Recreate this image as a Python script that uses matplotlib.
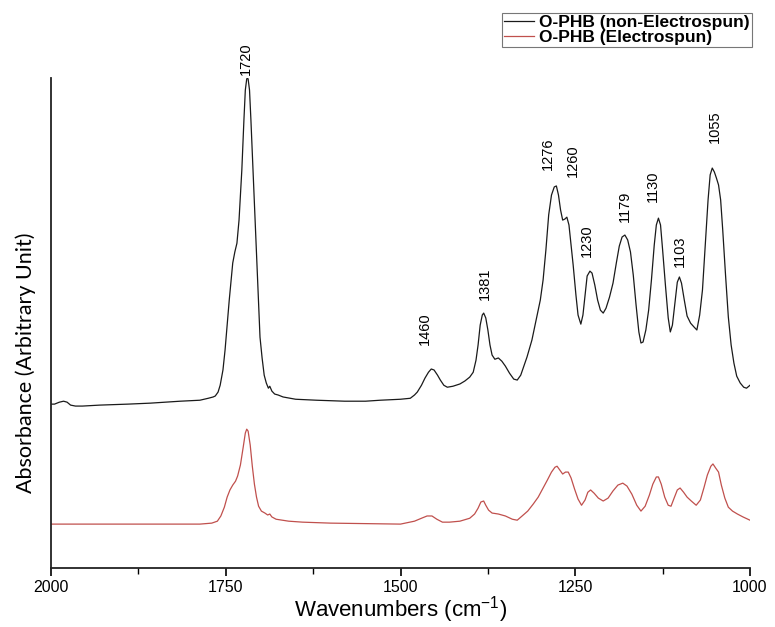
import matplotlib
matplotlib.use("Agg")
import matplotlib.pyplot as plt
from matplotlib.ticker import MultipleLocator
from matplotlib.lines import Line2D

plt.rcParams["mathtext.default"] = "regular"

# FTIR spectra of O-PHB, absorbance in arbitrary units
wn_nonspun = [2000, 1995, 1988, 1982, 1977, 1972, 1965, 1955, 1930, 1890, 1858, 1815,
              1787, 1775, 1768, 1765, 1761, 1758, 1754, 1751, 1748, 1745, 1742, 1740,
              1737, 1734, 1731, 1727, 1724, 1722, 1720, 1719, 1718, 1716, 1714, 1711,
              1708, 1705, 1703, 1701, 1698, 1695, 1692, 1689, 1687, 1684, 1680, 1675,
              1668, 1650, 1620, 1580, 1550, 1529, 1500, 1486, 1480, 1476, 1470, 1465,
              1460, 1456, 1452, 1447, 1443, 1438, 1433, 1425, 1415, 1408, 1401, 1396,
              1392, 1389, 1386, 1383, 1381, 1378, 1375, 1372, 1369, 1365, 1360, 1355,
              1350, 1344, 1338, 1333, 1328, 1323, 1319, 1312, 1305, 1300, 1296, 1292,
              1288, 1284, 1280, 1277, 1274, 1271, 1268, 1265, 1262, 1259, 1256, 1253,
              1249, 1246, 1242, 1239, 1236, 1233, 1229, 1226, 1222, 1218, 1214, 1210,
              1206, 1201, 1196, 1191, 1187, 1183, 1179, 1175, 1171, 1167, 1163, 1159,
              1156, 1153, 1149, 1145, 1141, 1137, 1134, 1131, 1128, 1125, 1121, 1117,
              1114, 1111, 1107, 1104, 1101, 1098, 1094, 1090, 1085, 1080, 1076, 1072,
              1068, 1064, 1060, 1057, 1054, 1051, 1048, 1045, 1042, 1039, 1035, 1031,
              1027, 1023, 1019, 1014, 1009, 1005, 1000]
abs_nonspun = [0.000, 0.000, 0.006, 0.009, 0.006, -0.003, -0.006, -0.006, -0.003, 0.000,
               0.003, 0.009, 0.012, 0.018, 0.022, 0.025, 0.037, 0.058, 0.105, 0.166,
               0.243, 0.320, 0.388, 0.434, 0.468, 0.495, 0.566, 0.720, 0.874, 0.966,
               1.000, 1.003, 1.000, 0.966, 0.874, 0.720, 0.566, 0.412, 0.305, 0.206,
               0.142, 0.089, 0.065, 0.049, 0.055, 0.040, 0.031, 0.028, 0.022, 0.015,
               0.012, 0.009, 0.009, 0.012, 0.015, 0.018, 0.028, 0.037, 0.058, 0.080,
               0.098, 0.108, 0.105, 0.089, 0.074, 0.058, 0.052, 0.055, 0.062, 0.071,
               0.083, 0.098, 0.135, 0.182, 0.243, 0.274, 0.280, 0.265, 0.228, 0.182,
               0.151, 0.138, 0.142, 0.132, 0.117, 0.095, 0.077, 0.074, 0.089, 0.120,
               0.145, 0.197, 0.268, 0.320, 0.382, 0.474, 0.582, 0.643, 0.668, 0.671,
               0.643, 0.597, 0.566, 0.569, 0.575, 0.551, 0.489, 0.428, 0.335, 0.274,
               0.246, 0.274, 0.335, 0.394, 0.409, 0.403, 0.366, 0.320, 0.289, 0.280,
               0.295, 0.329, 0.372, 0.437, 0.486, 0.514, 0.520, 0.505, 0.468, 0.397,
               0.305, 0.222, 0.188, 0.191, 0.228, 0.289, 0.382, 0.489, 0.551, 0.572,
               0.551, 0.474, 0.366, 0.265, 0.222, 0.243, 0.320, 0.375, 0.391, 0.372,
               0.320, 0.271, 0.249, 0.237, 0.228, 0.274, 0.351, 0.489, 0.628, 0.705,
               0.726, 0.714, 0.695, 0.674, 0.628, 0.535, 0.397, 0.268, 0.182, 0.126,
               0.086, 0.065, 0.052, 0.049, 0.058]

wn_spun = [2000, 1900, 1787, 1770, 1762, 1757, 1752, 1748, 1744, 1740, 1736, 1733,
           1729, 1725, 1722, 1720, 1718, 1715, 1712, 1709, 1706, 1703, 1699, 1694,
           1690, 1687, 1684, 1678, 1660, 1640, 1600, 1500, 1480, 1470, 1462, 1455,
           1448, 1440, 1430, 1415, 1401, 1394, 1389, 1385, 1381, 1378, 1374, 1369,
           1360, 1350, 1340, 1333, 1326, 1318, 1310, 1303, 1296, 1290, 1284, 1279,
           1276, 1272, 1268, 1264, 1260, 1256, 1251, 1246, 1241, 1236, 1232, 1228,
           1223, 1217, 1210, 1203, 1196, 1189, 1182, 1176, 1169, 1162, 1156, 1150,
           1144, 1139, 1134, 1131, 1127, 1122, 1117, 1113, 1108, 1104, 1100, 1095,
           1090, 1084, 1077, 1071, 1066, 1061, 1056, 1053, 1049, 1045, 1041, 1036,
           1031, 1025, 1018, 1010, 1000]
abs_spun = [0.000, 0.000, 0.000, 0.003, 0.009, 0.025, 0.052, 0.083, 0.105, 0.120,
            0.132, 0.148, 0.182, 0.237, 0.280, 0.292, 0.286, 0.243, 0.178, 0.123,
            0.083, 0.055, 0.040, 0.034, 0.028, 0.031, 0.022, 0.015, 0.009, 0.006,
            0.003, 0.000, 0.009, 0.018, 0.025, 0.025, 0.015, 0.006, 0.006, 0.009,
            0.018, 0.031, 0.049, 0.068, 0.071, 0.058, 0.043, 0.034, 0.031, 0.025,
            0.015, 0.012, 0.025, 0.040, 0.062, 0.083, 0.111, 0.135, 0.160, 0.175,
            0.178, 0.166, 0.154, 0.160, 0.160, 0.142, 0.108, 0.077, 0.058, 0.074,
            0.098, 0.105, 0.095, 0.080, 0.071, 0.080, 0.102, 0.120, 0.126, 0.117,
            0.092, 0.058, 0.040, 0.055, 0.089, 0.123, 0.145, 0.145, 0.123, 0.083,
            0.058, 0.055, 0.083, 0.105, 0.111, 0.098, 0.083, 0.071, 0.058, 0.074,
            0.111, 0.151, 0.178, 0.185, 0.172, 0.160, 0.120, 0.080, 0.052, 0.040,
            0.031, 0.022, 0.012]

peak_labels = ["1720", "1460", "1381", "1276", "1260", "1230",
               "1179", "1130", "1103", "1055"]
series_names = ["O-PHB (non-Electrospun)", "O-PHB (Electrospun)"]

# vertical stacking of the two spectra
stack_offset = 0.369

# anchor (x in cm-1, y in plot units) for the lower end of each rotated label
label_anchor = [(1720.5, 1.382), (1465, 0.551), (1379, 0.689), (1289, 1.089),
                (1253, 1.068), (1233, 0.822), (1179, 0.929), (1139, 0.991),
                (1100, 0.791), (1050, 1.172)]

black = "#1a1a1a"
red = "#c0504d"

fig = plt.figure(figsize=(7.75, 6.27), dpi=100)
ax = fig.add_axes([51 / 775, 59 / 627, 699 / 775, 490 / 627])

ax.plot(wn_nonspun, [a + stack_offset for a in abs_nonspun], color=black, lw=0.9,
        solid_joinstyle="round")
ax.plot(wn_spun, abs_spun, color=red, lw=0.9, solid_joinstyle="round")

ax.set_xlim(2000, 1000)
ax.set_ylim(-0.135, 1.372)

for sp in ("top", "right"):
    ax.spines[sp].set_visible(False)
for sp in ("left", "bottom"):
    ax.spines[sp].set_linewidth(1.3)
    ax.spines[sp].set_color("#222222")

ax.set_yticks([])
ax.xaxis.set_major_locator(MultipleLocator(250))
ax.xaxis.set_minor_locator(MultipleLocator(125))
ax.tick_params(axis="x", which="major", length=6, width=1.2, direction="out",
               pad=3, labelsize=11.5)
ax.tick_params(axis="x", which="minor", length=4, width=1.0, direction="out")
for lab in ax.get_xticklabels():
    lab.set_family(["Liberation Sans", "DejaVu Sans"])

ax.set_xlabel("Wavenumbers (cm$^{-1}$)", fontsize=16, labelpad=-1,
              family=["Liberation Sans", "DejaVu Sans"])
ax.set_ylabel("Absorbance (Arbitrary Unit)", fontsize=15.5,
              family=["Lato", "DejaVu Sans"])
ax.yaxis.set_label_coords(-0.021, 0.418)

for text, (x, y) in zip(peak_labels, label_anchor):
    ax.text(x, y, text, rotation=90, ha="center", va="bottom", fontsize=10.5,
            family=["Liberation Sans", "DejaVu Sans"], clip_on=False)

handles = [Line2D([], [], color=black, lw=0.9), Line2D([], [], color=red, lw=0.9)]
leg = fig.legend(handles, series_names, loc="upper right",
                 bbox_to_anchor=(752 / 775, 1 - 13 / 627),
                 prop={"family": "Liberation Sans", "weight": "bold", "size": 12.5},
                 frameon=True, fancybox=False, framealpha=1, edgecolor="#777777",
                 borderpad=0.12, labelspacing=0.0, handlelength=1.75,
                 handletextpad=0.3, borderaxespad=0)
leg.get_frame().set_linewidth(0.8)

fig.savefig("out.png", dpi=100)
